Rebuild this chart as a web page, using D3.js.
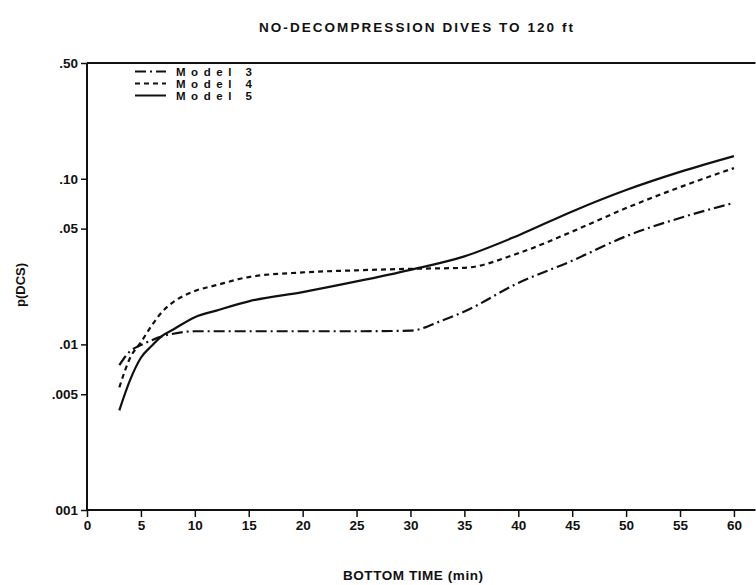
<!DOCTYPE html>
<html>
<head>
<meta charset="utf-8">
<script src="https://cdn.jsdelivr.net/npm/d3@7"></script>
<style>
  html, body { margin: 0; padding: 0; background: #fff; }
  svg { display: block; }
  text { font-family: "Liberation Sans", Arial, sans-serif; font-weight: bold; fill: #111; }
</style>
</head>
<body>
<svg id="chart" width="756" height="585"></svg>
<script>
const title = "NO-DECOMPRESSION DIVES TO 120 ft";
const xTitle = "BOTTOM TIME (min)";
const yTitle = "p(DCS)";

const xTicks = [0, 5, 10, 15, 20, 25, 30, 35, 40, 45, 50, 55, 60];
const yTicks = [0.5, 0.1, 0.05, 0.01, 0.005, 0.001];
const yTickLabels = [".50", ".10", ".05", ".01", ".005", "001"];

const model3T = [3, 4, 5, 6, 7, 8, 10, 15, 20, 25, 30, 33, 35, 40, 45, 50, 55, 60];
const model3P = [0.0075, 0.0091, 0.0099, 0.0106, 0.0112, 0.0116, 0.0120, 0.0120, 0.0120, 0.0120, 0.0121, 0.0140, 0.0158, 0.0235, 0.0320, 0.0450, 0.0580, 0.0715];

const model4T = [3, 4, 5, 6, 7, 8, 10, 12, 15, 20, 25, 30, 35, 40, 45, 50, 55, 60];
const model4P = [0.0055, 0.0083, 0.0103, 0.0130, 0.0158, 0.0180, 0.0210, 0.0228, 0.0255, 0.0272, 0.0280, 0.0286, 0.0290, 0.0355, 0.0480, 0.0665, 0.0890, 0.116];

const model5T = [3, 4, 5, 6, 7, 8, 10, 12, 15, 20, 25, 30, 35, 40, 45, 50, 55, 60];
const model5P = [0.0040, 0.0061, 0.0083, 0.0098, 0.0113, 0.0123, 0.0146, 0.0160, 0.0182, 0.0207, 0.0240, 0.0282, 0.0340, 0.0455, 0.0635, 0.0855, 0.110, 0.137];

const seriesNames = ["Model 3", "Model 4", "Model 5"];

const svg = d3.select("#chart");
const x = d3.scaleLinear().domain([0, 62]).range([87, 755.5]);
const y = d3.scaleLog().domain([0.001, 0.5]).range([510, 63]);

const dashes = ["11,4,2,4", "5,4", null];
const series = [
  {name: seriesNames[0], t: model3T, p: model3P},
  {name: seriesNames[1], t: model4T, p: model4P},
  {name: seriesNames[2], t: model5T, p: model5P}
];

// Frame: top line
svg.append("line").attr("x1", x(0)).attr("x2", x(62)).attr("y1", y(0.5)).attr("y2", y(0.5))
  .attr("stroke", "#111").attr("stroke-width", 2);

// X axis
const xAxis = svg.append("g").attr("transform", `translate(0,${y(0.001)})`)
  .call(d3.axisBottom(x).tickValues(xTicks).tickSize(7).tickPadding(3).tickFormat(d3.format("d")));
xAxis.select(".domain").attr("stroke", "#111").attr("stroke-width", 2)
  .attr("d", `M${x(0)},0H${x(62)}`);
xAxis.selectAll(".tick line").attr("stroke", "#111").attr("stroke-width", 1.5);
xAxis.selectAll(".tick text").attr("font-size", 13.5).attr("font-family", "Liberation Sans, Arial, sans-serif").attr("font-weight", "bold").attr("fill", "#111");

// Y axis
const yAxis = svg.append("g").attr("transform", `translate(${x(0)},0)`)
  .call(d3.axisLeft(y).tickValues(yTicks).tickSize(6).tickPadding(3)
    .tickFormat(d => yTickLabels[yTicks.indexOf(d)]));
yAxis.select(".domain").attr("stroke", "#111").attr("stroke-width", 2)
  .attr("d", `M0,${y(0.5)}V${y(0.001)}`);
yAxis.selectAll(".tick line").attr("stroke", "#111").attr("stroke-width", 1.5);
yAxis.selectAll(".tick text").attr("font-size", 13.5).attr("font-family", "Liberation Sans, Arial, sans-serif").attr("font-weight", "bold").attr("fill", "#111");

// Lines
const line = d3.line().curve(d3.curveMonotoneX).x(d => x(d[0])).y(d => y(d[1]));
series.forEach((s, i) => {
  const pts = s.t.map((t, j) => [t, s.p[j]]);
  svg.append("path").datum(pts).attr("d", line)
    .attr("fill", "none").attr("stroke", "#111").attr("stroke-width", 2.2)
    .attr("stroke-dasharray", dashes[i]);
});

// Legend
const lg = svg.append("g");
series.forEach((s, i) => {
  const ly = 71.5 + i * 12;
  lg.append("line").attr("x1", 135).attr("x2", 166).attr("y1", ly).attr("y2", ly)
    .attr("stroke", "#111").attr("stroke-width", 2).attr("stroke-dasharray", dashes[i]);
  lg.append("text").attr("x", 176).attr("y", ly + 4.3).attr("font-size", 11.5)
    .attr("textLength", 76).attr("lengthAdjust", "spacing").text(s.name);
});

// Titles
svg.append("text").attr("x", 416).attr("y", 32).attr("text-anchor", "middle")
  .attr("font-size", 13.5).attr("textLength", 314).attr("lengthAdjust", "spacing").text(title);
svg.append("text").attr("x", 413).attr("y", 580).attr("text-anchor", "middle")
  .attr("font-size", 13.5).attr("textLength", 140).attr("lengthAdjust", "spacing").text(xTitle);
svg.append("text").attr("transform", `translate(25,${285}) rotate(-90)`).attr("text-anchor", "middle")
  .attr("font-size", 13).text(yTitle);
</script>
</body>
</html>
